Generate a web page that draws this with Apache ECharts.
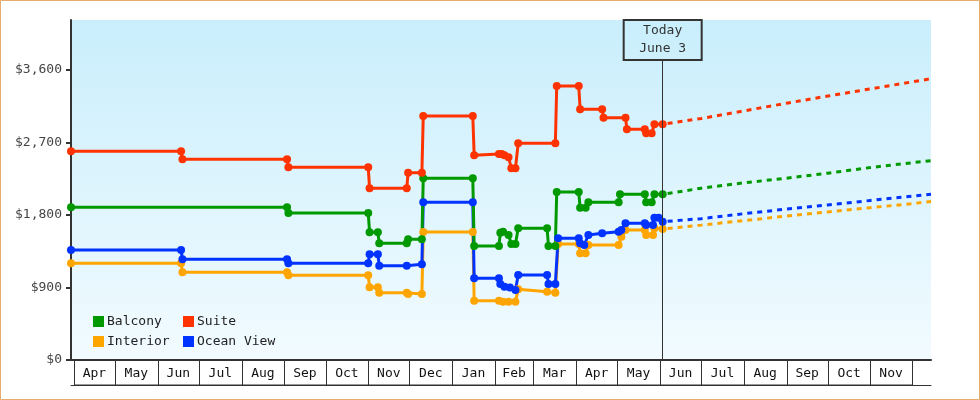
<!DOCTYPE html>
<html>
<head>
<meta charset="utf-8">
<script src="https://cdn.jsdelivr.net/npm/echarts@6/dist/echarts.min.js"></script>
<style>
  html, body { margin: 0; padding: 0; background: #fff; }
  #chart { width: 980px; height: 400px; }
</style>
</head>
<body>
<div id="chart"></div>
<script>
const FONT = 'DejaVu Sans Mono'
const rangeStart = '2012-03-30'
const rangeEnd = '2013-12-15'
const today = '2013-06-03'

const yTicks = [0, 900, 1800, 2700, 3600]

const monthLabels = ['Apr', 'May', 'Jun', 'Jul', 'Aug', 'Sep', 'Oct', 'Nov', 'Dec', 'Jan',
  'Feb', 'Mar', 'Apr', 'May', 'Jun', 'Jul', 'Aug', 'Sep', 'Oct', 'Nov']
const monthStarts = ['2012-04-01', '2012-05-01', '2012-06-01', '2012-07-01', '2012-08-01',
  '2012-09-01', '2012-10-01', '2012-11-01', '2012-12-01', '2013-01-01', '2013-02-01',
  '2013-03-01', '2013-04-01', '2013-05-01', '2013-06-01', '2013-07-01', '2013-08-01',
  '2013-09-01', '2013-10-01', '2013-11-01', '2013-12-01']

const balcony = [
  ['2012-03-30', 1895], ['2012-09-03', 1895], ['2012-09-04', 1825], ['2012-11-01', 1825],
  ['2012-11-02', 1585], ['2012-11-08', 1585], ['2012-11-09', 1448], ['2012-11-29', 1448],
  ['2012-11-30', 1498], ['2012-12-10', 1498], ['2012-12-11', 2255], ['2013-01-16', 2255],
  ['2013-01-17', 1415], ['2013-02-04', 1415], ['2013-02-05', 1580], ['2013-02-07', 1593],
  ['2013-02-11', 1552], ['2013-02-13', 1440], ['2013-02-16', 1440], ['2013-02-18', 1635],
  ['2013-03-11', 1635], ['2013-03-12', 1415], ['2013-03-17', 1415], ['2013-03-18', 2085],
  ['2013-04-03', 2085], ['2013-04-04', 1891], ['2013-04-08', 1891], ['2013-04-10', 1958],
  ['2013-05-02', 1958], ['2013-05-03', 2057], ['2013-05-21', 2057], ['2013-05-22', 1958],
  ['2013-05-26', 1958], ['2013-05-28', 2057], ['2013-06-03', 2057]
]
const suite = [
  ['2012-03-30', 2591], ['2012-06-18', 2591], ['2012-06-19', 2491], ['2012-09-03', 2491],
  ['2012-09-04', 2392], ['2012-11-01', 2392], ['2012-11-02', 2131], ['2012-11-29', 2131],
  ['2012-11-30', 2325], ['2012-12-10', 2325], ['2012-12-11', 3029], ['2013-01-16', 3029],
  ['2013-01-17', 2541], ['2013-02-04', 2557], ['2013-02-06', 2557], ['2013-02-08', 2541],
  ['2013-02-11', 2516], ['2013-02-13', 2380], ['2013-02-16', 2380], ['2013-02-18', 2690],
  ['2013-03-17', 2690], ['2013-03-18', 3401], ['2013-04-03', 3401], ['2013-04-04', 3112],
  ['2013-04-20', 3112], ['2013-04-21', 3008], ['2013-05-07', 3008], ['2013-05-08', 2863],
  ['2013-05-21', 2863], ['2013-05-22', 2814], ['2013-05-26', 2814], ['2013-05-28', 2926],
  ['2013-06-03', 2926]
]
const interior = [
  ['2012-03-30', 1200], ['2012-06-18', 1200], ['2012-06-19', 1089], ['2012-09-03', 1089],
  ['2012-09-04', 1051], ['2012-11-01', 1051], ['2012-11-02', 902], ['2012-11-08', 902],
  ['2012-11-09', 836], ['2012-11-29', 836], ['2012-11-30', 819], ['2012-12-10', 819],
  ['2012-12-11', 1590], ['2013-01-16', 1590], ['2013-01-17', 736], ['2013-02-04', 736],
  ['2013-02-07', 724], ['2013-02-11', 724], ['2013-02-16', 724], ['2013-02-18', 877],
  ['2013-03-11', 848], ['2013-03-17', 836], ['2013-03-19', 1440], ['2013-04-03', 1440],
  ['2013-04-04', 1324], ['2013-04-08', 1324], ['2013-04-10', 1428], ['2013-05-02', 1428],
  ['2013-05-04', 1531], ['2013-05-07', 1614], ['2013-05-21', 1614], ['2013-05-22', 1552],
  ['2013-05-27', 1552], ['2013-05-28', 1635], ['2013-06-03', 1626]
]
const oceanView = [
  ['2012-03-30', 1365], ['2012-06-18', 1365], ['2012-06-19', 1250], ['2012-09-03', 1250],
  ['2012-09-04', 1200], ['2012-11-01', 1200], ['2012-11-02', 1312], ['2012-11-08', 1312],
  ['2012-11-09', 1171], ['2012-11-29', 1171], ['2012-12-10', 1188], ['2012-12-11', 1958],
  ['2013-01-16', 1958], ['2013-01-17', 1014], ['2013-02-04', 1014], ['2013-02-05', 943],
  ['2013-02-08', 910], ['2013-02-12', 900], ['2013-02-16', 869], ['2013-02-18', 1055],
  ['2013-03-11', 1055], ['2013-03-12', 943], ['2013-03-17', 943], ['2013-03-19', 1511],
  ['2013-04-03', 1511], ['2013-04-04', 1449], ['2013-04-07', 1428], ['2013-04-10', 1552],
  ['2013-04-20', 1573], ['2013-05-02', 1593], ['2013-05-04', 1614], ['2013-05-07', 1697],
  ['2013-05-21', 1697], ['2013-05-22', 1676], ['2013-05-27', 1676], ['2013-05-28', 1766],
  ['2013-05-31', 1766], ['2013-06-03', 1717]
]

// projections after today
const balconyTrend = [['2013-06-03', 2057], ['2013-07-01', 2132], ['2013-08-01', 2199],
  ['2013-09-01', 2257], ['2013-10-01', 2319], ['2013-11-01', 2389], ['2013-12-01', 2448],
  ['2013-12-15', 2475]]
const suiteTrend = [['2013-06-03', 2926], ['2013-07-01', 2998], ['2013-08-01', 3092],
  ['2013-09-01', 3187], ['2013-10-01', 3276], ['2013-11-01', 3365], ['2013-12-01', 3451],
  ['2013-12-15', 3491]]
const interiorTrend = [['2013-06-03', 1626], ['2013-07-01', 1674], ['2013-08-01', 1731],
  ['2013-09-01', 1786], ['2013-10-01', 1837], ['2013-11-01', 1890], ['2013-12-01', 1941],
  ['2013-12-15', 1966]]
const oceanTrend = [['2013-06-03', 1717], ['2013-07-01', 1754], ['2013-08-01', 1816],
  ['2013-09-01', 1873], ['2013-10-01', 1924], ['2013-11-01', 1980], ['2013-12-01', 2032],
  ['2013-12-15', 2056]]

const colors = {
  Balcony: '#009900',
  Suite: '#ff3300',
  Interior: '#ffa500',
  'Ocean View': '#0033ff'
}

function priceLine(name, data) {
  return {
    name: name,
    type: 'line',
    data: data,
    clip: false,
    symbol: 'circle',
    symbolSize: 8,
    color: colors[name],
    lineStyle: { width: 3, color: colors[name] },
    itemStyle: { color: colors[name] },
    animation: false
  }
}

function trendLine(name, data) {
  return {
    name: name + ' trend',
    type: 'line',
    data: data,
    symbol: 'none',
    color: colors[name],
    lineStyle: { width: 3, color: colors[name], type: [5, 5], dashOffset: 5 },
    animation: false
  }
}

// one legend per entry so the two columns line up
function legendItem(name, left, top) {
  return {
    left: left,
    top: top,
    padding: 0,
    data: [name],
    icon: 'rect',
    itemWidth: 11,
    itemHeight: 11,
    selectedMode: false,
    textStyle: {
      fontFamily: FONT,
      fontSize: 13,
      color: '#222',
      padding: [0, 0, 0, -2]
    }
  }
}

const chart = echarts.init(document.getElementById('chart'))

const monthCells = monthLabels.map((m, i) => [monthStarts[i], monthStarts[i + 1]])

chart.setOption({
  animation: false,
  graphic: [{
    type: 'rect',
    shape: { x: 0.5, y: 0.5, width: 979, height: 399 },
    style: { fill: 'none', stroke: '#e9ab6b', lineWidth: 1 },
    z: 100
  }],
  grid: [
    {
      left: 71, right: 49, top: 20, bottom: 40,
      show: true,
      borderWidth: 0,
      backgroundColor: new echarts.graphic.LinearGradient(0, 0, 0, 1, [
        { offset: 0, color: '#c9eefc' },
        { offset: 1, color: '#f2fbff' }
      ])
    },
    { left: 71, right: 49, top: 360, height: 25 }
  ],
  legend: [
    legendItem('Balcony', 93, 315),
    legendItem('Suite', 183, 315),
    legendItem('Interior', 93, 335),
    legendItem('Ocean View', 183, 335)
  ],
  xAxis: [
    {
      type: 'time',
      gridIndex: 0,
      min: rangeStart,
      max: rangeEnd,
      axisLine: { show: true, lineStyle: { color: '#333', width: 2 } },
      axisTick: { show: false },
      axisLabel: { show: false },
      splitLine: { show: false }
    },
    {
      type: 'time',
      gridIndex: 1,
      min: rangeStart,
      max: rangeEnd,
      axisLine: { show: true, lineStyle: { color: '#333', width: 1 } },
      axisTick: { show: false },
      axisLabel: { show: false },
      splitLine: { show: false }
    }
  ],
  yAxis: [
    {
      type: 'value',
      gridIndex: 0,
      min: 0,
      max: 4220,
      axisLine: { show: true, lineStyle: { color: '#333', width: 2 } },
      axisTick: { show: true, length: 5, customValues: yTicks, lineStyle: { color: '#333', width: 2 } },
      axisLabel: {
        customValues: yTicks,
        margin: 9,
        fontFamily: FONT,
        fontSize: 13,
        color: '#444',
        formatter: v => '$' + v.toLocaleString('en-US')
      },
      splitLine: { show: false }
    },
    {
      type: 'value',
      gridIndex: 1,
      min: 0,
      max: 1,
      show: false
    }
  ],
  series: [
    {
      type: 'custom',
      xAxisIndex: 1,
      yAxisIndex: 1,
      data: monthCells,
      encode: { x: [0, 1] },
      silent: true,
      renderItem: (params, api) => {
        const x0 = api.coord([api.value(0), 0])[0]
        const x1 = api.coord([api.value(1), 0])[0]
        const cs = params.coordSys
        return {
          type: 'group',
          children: [
            {
              type: 'rect',
              shape: { x: Math.round(x0) + 0.5, y: cs.y, width: Math.round(x1) - Math.round(x0), height: cs.height },
              style: { fill: 'none', stroke: '#333', lineWidth: 1 }
            },
            {
              type: 'text',
              style: {
                text: monthLabels[params.dataIndex],
                x: (x0 + x1) / 2,
                y: cs.y + cs.height / 2 + 1,
                textAlign: 'center',
                textVerticalAlign: 'middle',
                font: '13px "' + FONT + '"',
                fill: '#111'
              }
            }
          ]
        }
      }
    },
    trendLine('Interior', interiorTrend),
    trendLine('Ocean View', oceanTrend),
    trendLine('Balcony', balconyTrend),
    Object.assign(trendLine('Suite', suiteTrend), {
      markLine: {
        silent: true,
        symbol: 'none',
        animation: false,
        lineStyle: { color: '#333', width: 1, type: 'solid' },
        label: {
          show: true,
          position: 'end',
          distance: 0,
          formatter: 'Today\nJune 3',
          fontFamily: FONT,
          fontSize: 13,
          lineHeight: 18,
          color: '#333',
          width: 78,
          align: 'center',
          padding: [2, 0, 2, 0],
          borderColor: '#333',
          borderWidth: 1,
          backgroundColor: 'transparent'
        },
        data: [[{ coord: [today, 0] }, { coord: [today, 3724] }]]
      }
    }),
    priceLine('Interior', interior),
    priceLine('Ocean View', oceanView),
    priceLine('Balcony', balcony),
    priceLine('Suite', suite)
  ]
})
</script>
</body>
</html>
